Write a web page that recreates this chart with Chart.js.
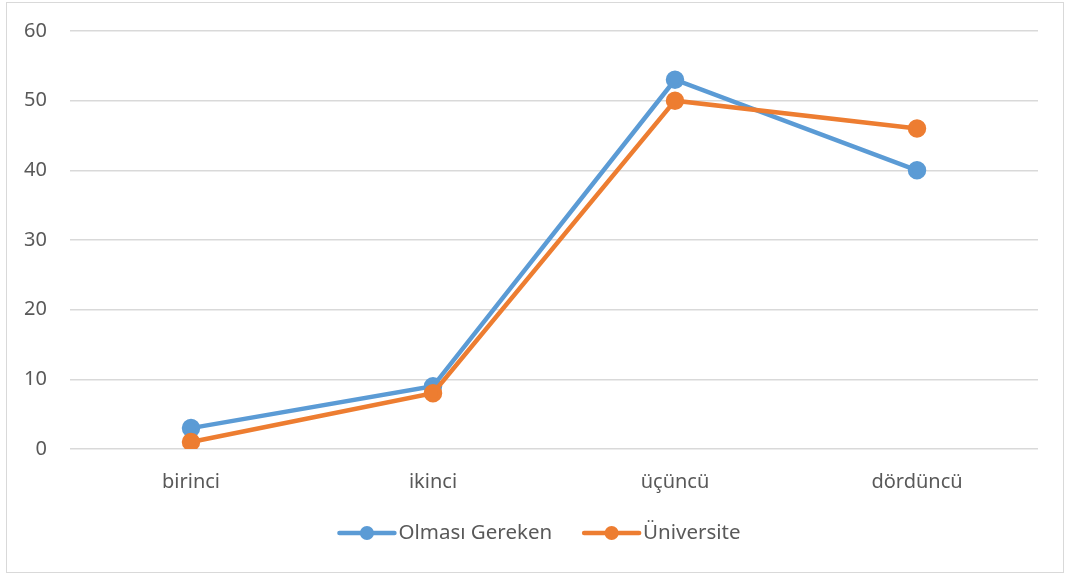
<!DOCTYPE html>
<html lang="tr">
<head>
    <meta charset="UTF-8">
    <title>Olması Gereken / Üniversite</title>
    <script src="https://cdn.jsdelivr.net/npm/chart.js"></script>
    <style>
        body { margin: 0; background: #fff; }
        #wrap { position: relative; width: 1066px; height: 577px; }
        #frame { position: absolute; left: 6px; top: 2px; width: 1056px; height: 569px; border: 1px solid #d9d9d9; }
        #myChart { position: absolute; left: 0; top: 0; }
    </style>
</head>
<body>
<div id="wrap">
    <div id="frame"></div>
    <canvas id="myChart" width="1066" height="577"></canvas>
</div>
<script>
    var categories = ['birinci', 'ikinci', 'üçüncü', 'dördüncü'];
    var olmasiGereken = [3, 9, 53, 40];
    var universite = [1, 8, 50, 46];
    var yTicks = [0, 10, 20, 30, 40, 50, 60];

    var FONT = "'Noto Sans', 'Open Sans', sans-serif";
    var TEXT = '#595959';

    // legend drawn by hand: line + dot, like the office-style legend
    var bottomLegend = {
        id: 'bottomLegend',
        afterDraw: function (chart) {
            var ctx = chart.ctx;
            var ds = chart.data.datasets;
            ctx.save();
            ctx.font = '20.5px ' + FONT;
            var lineLen = 55, textGap = 4, itemGap = 32;
            var widths = ds.map(function (d) { return lineLen + textGap + ctx.measureText(d.label).width; });
            var total = widths.reduce(function (a, b) { return a + b; }, 0) + itemGap * (ds.length - 1);
            var x = 540 - total / 2;
            var y = 533;
            ds.forEach(function (d, i) {
                ctx.strokeStyle = d.borderColor;
                ctx.lineWidth = 4.5;
                ctx.lineCap = 'round';
                ctx.beginPath();
                ctx.moveTo(x, y);
                ctx.lineTo(x + lineLen, y);
                ctx.stroke();
                ctx.fillStyle = d.borderColor;
                ctx.beginPath();
                ctx.arc(x + lineLen / 2, y, 7, 0, Math.PI * 2);
                ctx.fill();
                ctx.fillStyle = TEXT;
                ctx.textBaseline = 'middle';
                ctx.textAlign = 'left';
                ctx.fillText(d.label, x + lineLen + textGap, y);
                x += widths[i] + itemGap;
            });
            ctx.restore();
        }
    };

    var ctx = document.getElementById('myChart').getContext('2d');
    var myChart = new Chart(ctx, {
        type: 'line',
        data: {
            labels: categories,
            datasets: [{
                label: 'Olması Gereken',
                data: olmasiGereken,
                borderColor: '#5B9BD5',
                backgroundColor: '#5B9BD5',
                borderWidth: 4.5,
                pointRadius: 7,
                pointHoverRadius: 7,
                fill: false,
                tension: 0,
                order: 1
            }, {
                label: 'Üniversite',
                data: universite,
                borderColor: '#ED7D31',
                backgroundColor: '#ED7D31',
                borderWidth: 4.5,
                pointRadius: 7,
                pointHoverRadius: 7,
                fill: false,
                tension: 0,
                order: 0
            }]
        },
        options: {
            responsive: false,
            animation: false,
            layout: { padding: { left: 0, right: 28, top: 31, bottom: 0 } },
            plugins: {
                legend: { display: false },
                tooltip: { enabled: false }
            },
            scales: {
                x: {
                    offset: true,
                    grid: { display: false },
                    border: { display: false },
                    ticks: { color: TEXT, font: { family: FONT, size: 20 }, padding: 13 },
                    afterFit: function (scale) { scale.height = 128; }
                },
                y: {
                    min: 0,
                    max: 60,
                    afterBuildTicks: function (scale) {
                        scale.ticks = yTicks.map(function (v) { return { value: v }; });
                    },
                    grid: { color: '#d9d9d9', lineWidth: 1.5, drawTicks: false },
                    border: { display: false },
                    ticks: { color: TEXT, font: { family: FONT, size: 20 }, padding: 23 },
                    afterFit: function (scale) {
                        scale.width = 70;
                        // keep the plot top where the reference has it
                        scale.paddingTop = 0;
                        scale.paddingBottom = 0;
                    }
                }
            }
        },
        plugins: [bottomLegend]
    });
</script>
</body>
</html>
